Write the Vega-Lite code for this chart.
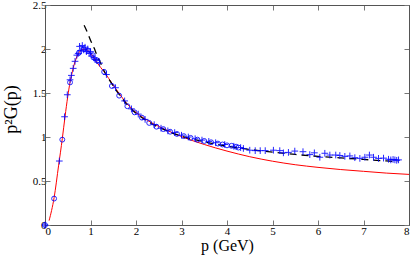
{
  "$schema": "https://vega.github.io/schema/vega-lite/v6.json",
  "width": 364,
  "height": 220,
  "autosize": {"type": "none"},
  "padding": {"left": 45, "top": 5, "right": 5, "bottom": 34},
  "background": "white",
  "config": {
    "view": {"stroke": "#555", "strokeWidth": 1},
    "font": "Liberation Serif",
    "axis": {"grid": false, "domainColor": "#555", "tickColor": "#777", "labelFont": "Liberation Serif", "titleFont": "Liberation Serif", "labelColor": "black", "titleColor": "black", "titleFontWeight": "normal", "labelFontSize": 11, "tickSize": -5}
  },
  "datasets": {
    "red": [
      {"p": 0.09, "g": 0.05}, {"p": 0.2, "g": 0.31}, {"p": 0.3, "g": 0.68}, {"p": 0.38, "g": 0.98},
      {"p": 0.44, "g": 1.23}, {"p": 0.5, "g": 1.46}, {"p": 0.55, "g": 1.62}, {"p": 0.6, "g": 1.74},
      {"p": 0.65, "g": 1.84}, {"p": 0.7, "g": 1.91}, {"p": 0.75, "g": 1.96}, {"p": 0.8, "g": 1.99},
      {"p": 0.87, "g": 2.0}, {"p": 0.95, "g": 1.98}, {"p": 1.05, "g": 1.92}, {"p": 1.15, "g": 1.84},
      {"p": 1.3, "g": 1.74}, {"p": 1.5, "g": 1.59}, {"p": 1.65, "g": 1.48}, {"p": 1.8, "g": 1.38},
      {"p": 2.0, "g": 1.28}, {"p": 2.25, "g": 1.19}, {"p": 2.5, "g": 1.12}, {"p": 2.75, "g": 1.06},
      {"p": 3.0, "g": 1.005}, {"p": 3.5, "g": 0.915}, {"p": 4.0, "g": 0.84}, {"p": 4.5, "g": 0.776},
      {"p": 5.0, "g": 0.725}, {"p": 5.5, "g": 0.685}, {"p": 6.0, "g": 0.655}, {"p": 6.5, "g": 0.63},
      {"p": 7.0, "g": 0.61}, {"p": 7.5, "g": 0.59}, {"p": 8.0, "g": 0.575}
    ],
    "dash": [
      {"p": 0.86, "g": 2.27}, {"p": 0.93, "g": 2.19}, {"p": 1.0, "g": 2.1}, {"p": 1.08, "g": 2.01},
      {"p": 1.14, "g": 1.93}, {"p": 1.21, "g": 1.855}, {"p": 1.3, "g": 1.75}, {"p": 1.4, "g": 1.66},
      {"p": 1.5, "g": 1.58}, {"p": 1.65, "g": 1.47}, {"p": 1.8, "g": 1.37}, {"p": 2.0, "g": 1.27},
      {"p": 2.25, "g": 1.18}, {"p": 2.5, "g": 1.11}, {"p": 2.75, "g": 1.055}, {"p": 3.0, "g": 1.01},
      {"p": 3.5, "g": 0.945}, {"p": 4.0, "g": 0.895}, {"p": 4.5, "g": 0.858}, {"p": 5.0, "g": 0.828},
      {"p": 5.5, "g": 0.802}, {"p": 6.0, "g": 0.78}, {"p": 6.5, "g": 0.762}, {"p": 7.0, "g": 0.745},
      {"p": 7.5, "g": 0.728}, {"p": 7.75, "g": 0.72}
    ],
    "circles": [
      {"p": 0.0, "g": 0.0}, {"p": 0.2, "g": 0.3}, {"p": 0.38, "g": 0.97}, {"p": 0.55, "g": 1.62},
      {"p": 0.75, "g": 1.96}, {"p": 0.85, "g": 2.0}, {"p": 0.95, "g": 1.98}, {"p": 1.05, "g": 1.93},
      {"p": 1.15, "g": 1.87}, {"p": 1.3, "g": 1.74}, {"p": 1.47, "g": 1.58}, {"p": 1.63, "g": 1.47},
      {"p": 1.81, "g": 1.35}, {"p": 1.97, "g": 1.28}, {"p": 2.13, "g": 1.22}, {"p": 2.29, "g": 1.16},
      {"p": 2.45, "g": 1.117}, {"p": 2.6, "g": 1.09}, {"p": 2.75, "g": 1.06}, {"p": 2.9, "g": 1.035},
      {"p": 3.05, "g": 1.01}, {"p": 3.2, "g": 0.99}, {"p": 3.35, "g": 0.97}, {"p": 3.5, "g": 0.955},
      {"p": 3.65, "g": 0.94}, {"p": 3.8, "g": 0.925}, {"p": 3.9, "g": 0.915}, {"p": 4.0, "g": 0.905},
      {"p": 4.1, "g": 0.9}, {"p": 4.2, "g": 0.89}, {"p": 4.25, "g": 0.88}
    ],
    "crosses": [
      {"p": 0.0, "g": 0.0}, {"p": 0.315, "g": 0.727}, {"p": 0.43, "g": 1.23}, {"p": 0.49, "g": 1.48},
      {"p": 0.55, "g": 1.65}, {"p": 0.58, "g": 1.7}, {"p": 0.62, "g": 1.78}, {"p": 0.66, "g": 1.86},
      {"p": 0.7, "g": 1.93}, {"p": 0.73, "g": 1.95}, {"p": 0.76, "g": 2.03}, {"p": 0.79, "g": 1.98},
      {"p": 0.82, "g": 2.04}, {"p": 0.85, "g": 1.99}, {"p": 0.88, "g": 2.02}, {"p": 0.91, "g": 1.97},
      {"p": 0.94, "g": 2.0}, {"p": 0.97, "g": 1.95}, {"p": 1.0, "g": 1.97}, {"p": 1.03, "g": 1.92},
      {"p": 1.07, "g": 1.9}, {"p": 1.1, "g": 1.88}, {"p": 1.14, "g": 1.87}, {"p": 1.2, "g": 1.84},
      {"p": 1.35, "g": 1.71}, {"p": 1.55, "g": 1.56}, {"p": 1.75, "g": 1.41}, {"p": 1.9, "g": 1.32},
      {"p": 2.05, "g": 1.26}, {"p": 2.2, "g": 1.2}, {"p": 2.4, "g": 1.14}, {"p": 2.55, "g": 1.1},
      {"p": 2.7, "g": 1.07}, {"p": 2.85, "g": 1.05}, {"p": 3.0, "g": 1.02}, {"p": 3.15, "g": 1.0},
      {"p": 3.3, "g": 0.98}, {"p": 3.45, "g": 0.965}, {"p": 3.6, "g": 0.95}, {"p": 3.75, "g": 0.935},
      {"p": 3.95, "g": 0.915}, {"p": 4.15, "g": 0.895}, {"p": 4.3, "g": 0.88},
      {"p": 4.36, "g": 0.87}, {"p": 4.5, "g": 0.85}, {"p": 4.62, "g": 0.845}, {"p": 4.73, "g": 0.845},
      {"p": 4.84, "g": 0.845}, {"p": 5.02, "g": 0.85}, {"p": 5.16, "g": 0.845}, {"p": 5.24, "g": 0.82},
      {"p": 5.35, "g": 0.825}, {"p": 5.49, "g": 0.84}, {"p": 5.67, "g": 0.833}, {"p": 5.82, "g": 0.8},
      {"p": 5.92, "g": 0.82}, {"p": 6.04, "g": 0.77}, {"p": 6.15, "g": 0.815}, {"p": 6.26, "g": 0.795},
      {"p": 6.39, "g": 0.795}, {"p": 6.48, "g": 0.79}, {"p": 6.59, "g": 0.78}, {"p": 6.7, "g": 0.785},
      {"p": 6.81, "g": 0.765}, {"p": 6.92, "g": 0.757}, {"p": 7.03, "g": 0.77}, {"p": 7.13, "g": 0.795},
      {"p": 7.22, "g": 0.77}, {"p": 7.33, "g": 0.757}, {"p": 7.44, "g": 0.76}, {"p": 7.55, "g": 0.747},
      {"p": 7.6, "g": 0.74}, {"p": 7.65, "g": 0.745}, {"p": 7.69, "g": 0.74}, {"p": 7.73, "g": 0.735},
      {"p": 7.77, "g": 0.74}
    ],
    "frame": [{"p": 0, "g": 0}]
  },
  "layer": [
    {
      "data": {"name": "red"},
      "mark": {"type": "line", "color": "#ff0000", "strokeWidth": 1, "interpolate": "monotone"},
      "encoding": {
        "x": {"field": "p", "type": "quantitative", "scale": {"domain": [0, 8], "nice": false},
          "axis": {"orient": "bottom", "values": [0,1,2,3,4,5,6,7,8], "title": "p (GeV)", "titleFont": "Liberation Serif", "labelFont": "Liberation Serif", "titleFontWeight": "normal", "titleFontSize": 16, "titlePadding": 1, "labelPadding": 5, "format": "~g"}},
        "y": {"field": "g", "type": "quantitative", "scale": {"domain": [0, 2.5], "nice": false},
          "axis": {"orient": "left", "values": [0,0.5,1,1.5,2,2.5], "title": "p²G(p)", "titleFont": "Liberation Serif", "labelFont": "Liberation Serif", "titleFontWeight": "normal", "titleFontSize": 18, "titlePadding": 12, "titleY": 104, "labelPadding": 4, "format": "~g"}}
      }
    },
    {
      "data": {"name": "frame"},
      "mark": {"type": "point", "opacity": 0},
      "encoding": {
        "x": {"field": "p", "type": "quantitative", "scale": {"domain": [0, 8], "nice": false},
          "axis": {"orient": "top", "values": [0,1,2,3,4,5,6,7,8], "labels": false, "title": null}},
        "y": {"field": "g", "type": "quantitative", "scale": {"domain": [0, 2.5], "nice": false},
          "axis": {"orient": "right", "values": [0,0.5,1,1.5,2,2.5], "labels": false, "title": null}}
      }
    },
    {
      "data": {"name": "dash"},
      "mark": {"type": "line", "color": "black", "strokeWidth": 1.3, "strokeDash": [7, 5], "interpolate": "monotone"},
      "encoding": {
        "x": {"field": "p", "type": "quantitative", "axis": null},
        "y": {"field": "g", "type": "quantitative", "axis": null}
      }
    },
    {
      "data": {"name": "crosses"},
      "mark": {"type": "point", "shape": "M-1,0L1,0M0,-1L0,1", "filled": false, "color": "#0000ff", "strokeWidth": 1, "size": 45, "opacity": 0.85},
      "encoding": {
        "x": {"field": "p", "type": "quantitative", "axis": null},
        "y": {"field": "g", "type": "quantitative", "axis": null}
      }
    },
    {
      "data": {"name": "circles"},
      "mark": {"type": "point", "shape": "circle", "filled": false, "color": "#0000ff", "strokeWidth": 1, "size": 24, "opacity": 0.85},
      "encoding": {
        "x": {"field": "p", "type": "quantitative", "axis": null},
        "y": {"field": "g", "type": "quantitative", "axis": null}
      }
    }
  ],
  "resolve": {"axis": {"x": "independent", "y": "independent"}}
}
